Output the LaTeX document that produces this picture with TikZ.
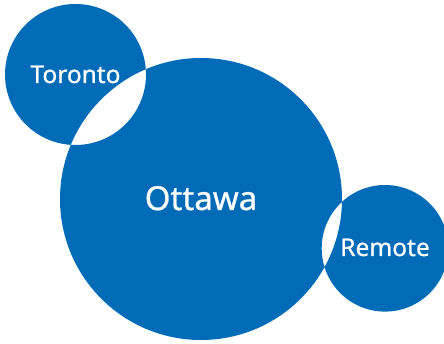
\documentclass[tikz,border=0pt]{standalone}
\usepackage{fontspec}
\setmainfont{Noto Sans}
\newfontfamily\lblfont{Noto Sans}[FakeBold=0.8]
\definecolor{cblue}{RGB}{0,108,183}
\begin{document}
\begin{tikzpicture}[x=1pt,y=-1pt,
  lbl/.style={text=white,anchor=base,inner sep=0pt}]
\useasboundingbox (0,0) rectangle (444,344);
\fill[cblue,even odd rule] (75.5,74.5) circle (70.5) (201,199) circle (141) (385,248.3) circle (63.3);
\node[lbl,font=\lblfont\fontsize{24.5}{28}\selectfont] (toronto) at (75.5,83) {Toronto};
\node[lbl,font=\lblfont\fontsize{33}{38}\selectfont] (ottawa) at (201,210) {Ottawa};
\node[lbl,font=\lblfont\fontsize{24.5}{28}\selectfont] (remote) at (385,256) {Remote};
\end{tikzpicture}
\end{document}
